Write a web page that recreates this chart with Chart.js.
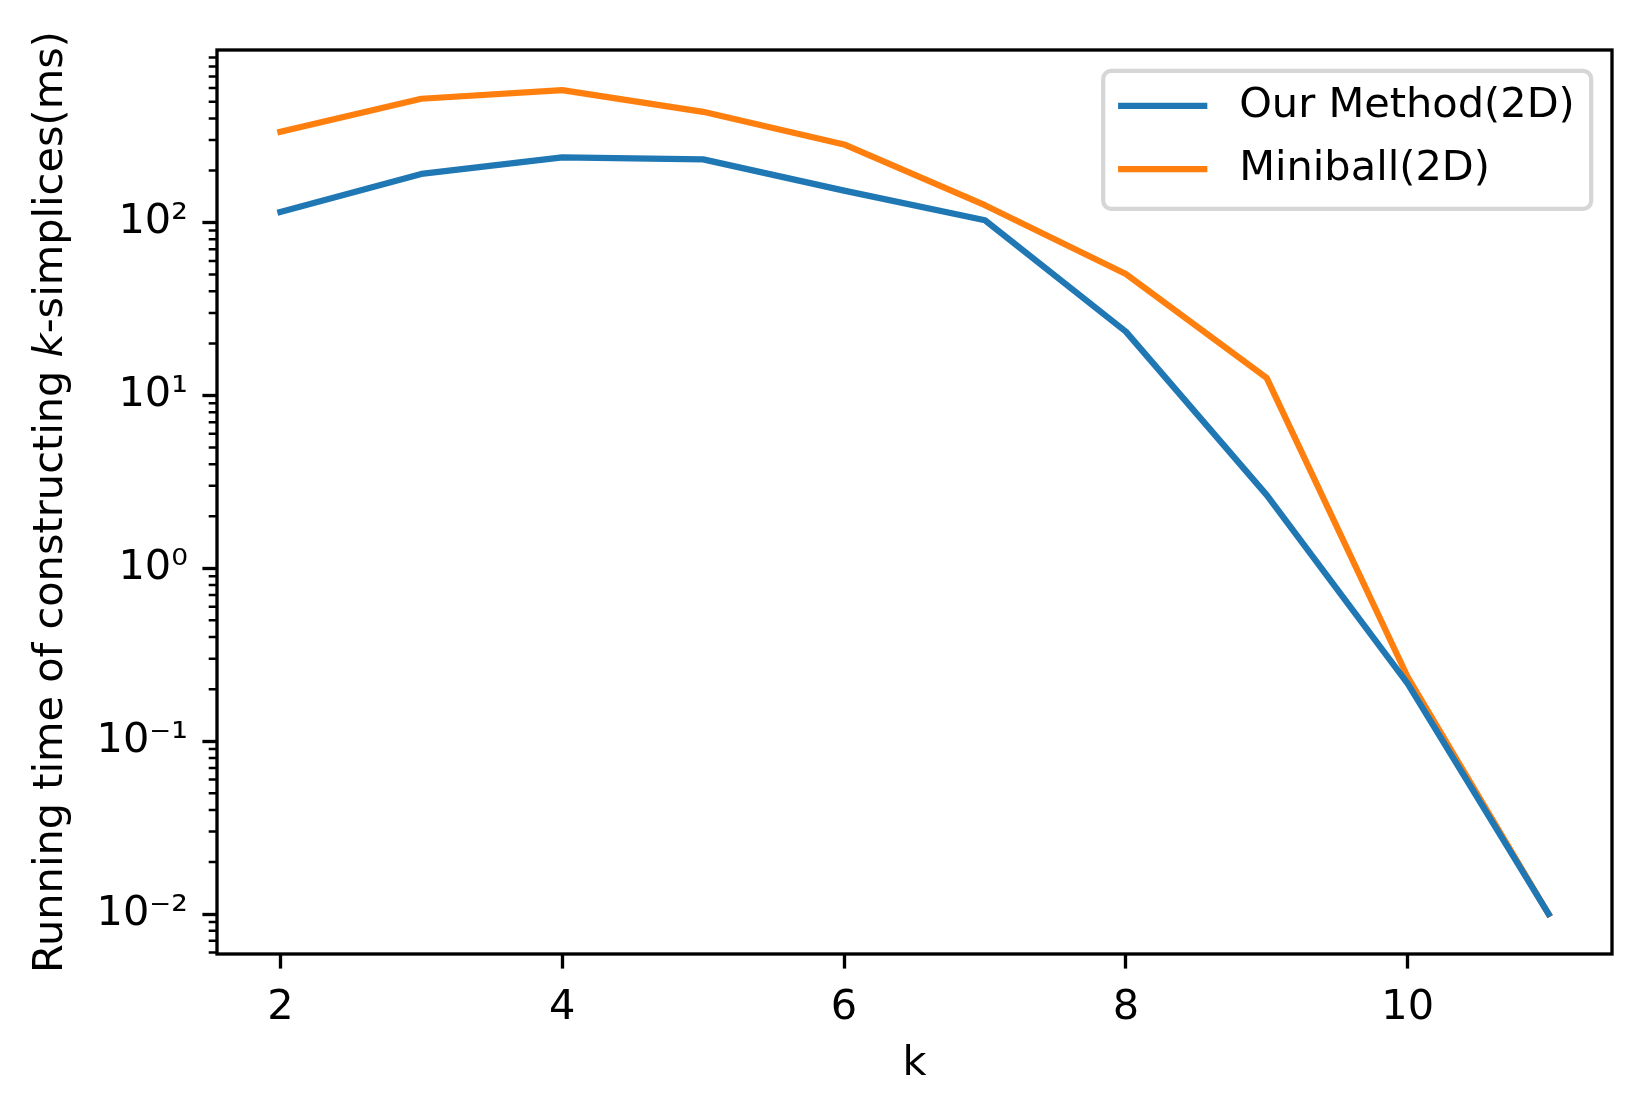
<!DOCTYPE html>
<html>
<head>
<meta charset="utf-8">
<script src="https://cdn.jsdelivr.net/npm/chart.js@4.4.1/dist/chart.umd.min.js"></script>
<style>
  html, body { margin: 0; padding: 0; background: #fff; }
  #wrap { width: 1642px; height: 1115px; }
</style>
</head>
<body>
<div id="wrap"><canvas id="chart" width="1642" height="1115"></canvas></div>
<script>
// k on the x axis
const kValues = [2, 3, 4, 5, 6, 7, 8, 9, 10, 11];
// running time in ms
const ourMethod2D = [115, 191, 238, 232, 153, 103, 23.4, 2.65, 0.215, 0.0100];
const miniball2D  = [335, 520, 584, 437, 283, 126, 50.4, 12.6, 0.235, 0.0100];

const seriesNames = ['Our Method(2D)', 'Miniball(2D)'];
const seriesColors = ['#1f77b4', '#ff7f0e'];

// tick labels
const xTicks = [2, 4, 6, 8, 10];
const yTicks = [0.01, 0.1, 1, 10, 100];
const yTickLabels = ['10⁻²', '10⁻¹', '10⁰', '10¹', '10²'];

const xTitle = 'k';
// [text, italic]
const yTitleParts = [['Running time of constructing ', false], ['k', true], ['-simplices(ms)', false]];

const FONT = '"DejaVu Sans"';
const FS = 41.5;

// frame, minor ticks, y title with italic k, legend inside the axes
const mplDecor = {
  id: 'mplDecor',
  afterDraw(chart) {
    const { ctx, chartArea: a, scales } = chart;
    const y = scales.y;
    ctx.save();

    // minor log ticks
    ctx.strokeStyle = '#000';
    ctx.lineWidth = 2.5;
    ctx.beginPath();
    for (let e = -3; e <= 2; e++) {
      for (let m = 2; m <= 9; m++) {
        const v = m * Math.pow(10, e);
        if (v < y.min || v > y.max) continue;
        const py = y.getPixelForValue(v);
        ctx.moveTo(a.left, py);
        ctx.lineTo(a.left - 8.3, py);
      }
    }
    ctx.stroke();

    // spines
    ctx.lineWidth = 3.33;
    ctx.strokeRect(a.left, a.top, a.right - a.left, a.bottom - a.top);

    // y title
    ctx.save();
    ctx.translate(51, (a.top + a.bottom) / 2);
    ctx.rotate(-Math.PI / 2);
    ctx.fillStyle = '#000';
    ctx.textBaseline = 'middle';
    ctx.textAlign = 'left';
    const fontOf = it => (it ? 'italic ' : '') + FS + 'px ' + FONT;
    let total = 0;
    yTitleParts.forEach(([t, it]) => { ctx.font = fontOf(it); total += ctx.measureText(t).width; });
    let cx = -total / 2;
    yTitleParts.forEach(([t, it]) => {
      ctx.font = fontOf(it);
      ctx.fillText(t, cx, 0);
      cx += ctx.measureText(t).width;
    });
    ctx.restore();

    // legend
    const pad = 20.8;
    const lw = 488, lh = 138;
    const lx = a.right - pad - lw, ly = a.top + pad;
    ctx.beginPath();
    ctx.roundRect(lx, ly, lw, lh, 8);
    ctx.fillStyle = 'rgba(255,255,255,0.8)';
    ctx.fill();
    ctx.strokeStyle = '#d6d6d6';
    ctx.lineWidth = 4.2;
    ctx.stroke();
    chart.data.datasets.forEach((ds, i) => {
      const ry = ly + 35 + i * 63.3;
      ctx.strokeStyle = ds.borderColor;
      ctx.lineWidth = 6.25;
      ctx.lineCap = 'square';
      ctx.beginPath();
      ctx.moveTo(lx + 18, ry);
      ctx.lineTo(lx + 101, ry);
      ctx.stroke();
      ctx.fillStyle = '#000';
      ctx.font = FS + 'px ' + FONT;
      ctx.textBaseline = 'middle';
      ctx.textAlign = 'left';
      ctx.fillText(ds.label, lx + 136, ry);
    });

    ctx.restore();
  }
};

const datasets = [ourMethod2D, miniball2D].map((vals, i) => ({
  label: seriesNames[i],
  data: kValues.map((k, j) => ({ x: k, y: vals[j] })),
  borderColor: seriesColors[i],
  backgroundColor: seriesColors[i],
  borderWidth: 6.25,
  borderCapStyle: 'square',
  borderJoinStyle: 'round',
  pointRadius: 0,
  tension: 0,
  fill: false
}));

new Chart(document.getElementById('chart'), {
  type: 'line',
  data: { datasets },
  options: {
    responsive: false,
    animation: false,
    devicePixelRatio: 1,
    layout: { padding: { left: 0, top: 50, right: 30, bottom: 0 } },
    plugins: { legend: { display: false }, tooltip: { enabled: false } },
    scales: {
      x: {
        type: 'linear',
        min: 1.55,
        max: 11.45,
        afterBuildTicks: s => { s.ticks = xTicks.map(v => ({ value: v })); },
        afterFit: s => { s.height = 161; },
        ticks: {
          color: '#000',
          font: { family: FONT, size: FS },
          padding: 14.5,
          maxRotation: 0,
          autoSkip: false,
          callback: v => String(v)
        },
        grid: { drawOnChartArea: false, drawTicks: true, tickLength: 14.6, tickWidth: 3.33, tickColor: '#000' },
        border: { display: false },
        title: { display: true, text: xTitle, color: '#000', font: { family: FONT, size: FS }, padding: { top: 0, bottom: 26 } }
      },
      y: {
        type: 'logarithmic',
        min: Math.pow(10, -2.231),
        max: Math.pow(10, 2.998),
        afterBuildTicks: s => { s.ticks = yTicks.map(v => ({ value: v })); },
        afterFit: s => { s.width = 217; },
        ticks: {
          color: '#000',
          font: { family: FONT, size: FS },
          padding: 14.5,
          autoSkip: false,
          callback: v => {
            const i = yTicks.findIndex(t => Math.abs(t - v) / t < 1e-6);
            return i >= 0 ? yTickLabels[i] : '';
          }
        },
        grid: { drawOnChartArea: false, drawTicks: true, tickLength: 14.6, tickWidth: 3.33, tickColor: '#000' },
        border: { display: false }
      }
    }
  },
  plugins: [mplDecor]
});
</script>
</body>
</html>
